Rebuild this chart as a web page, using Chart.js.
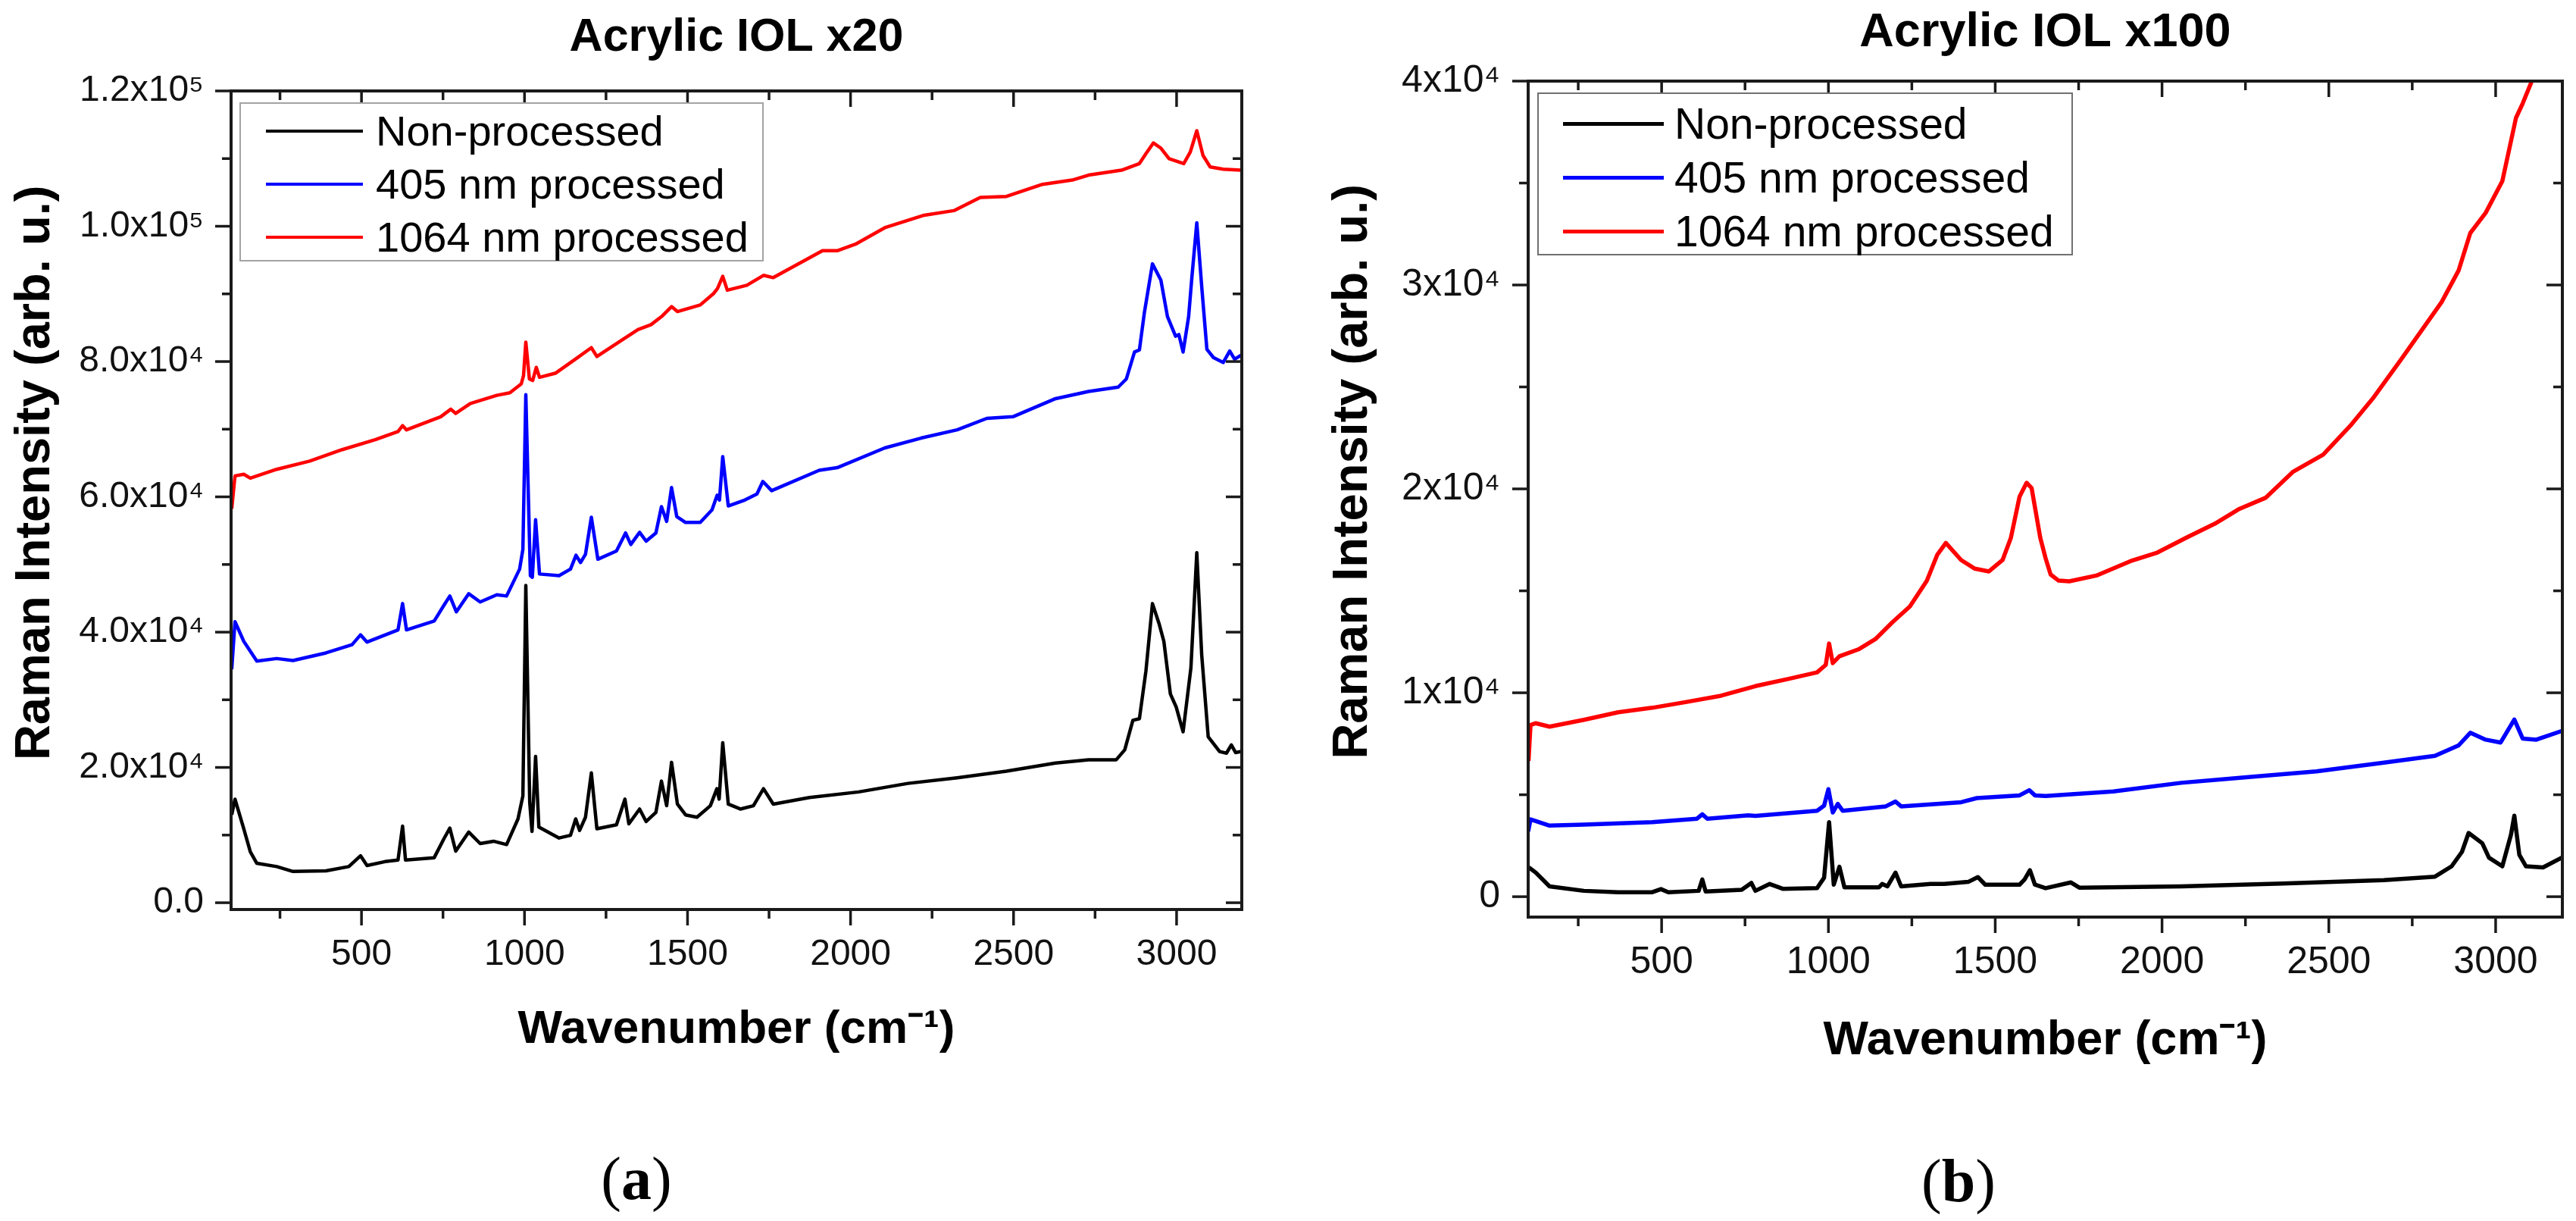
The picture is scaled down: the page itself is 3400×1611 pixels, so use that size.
<!DOCTYPE html>
<html><head><meta charset="utf-8">
<script src="https://cdn.jsdelivr.net/npm/chart.js@4.4.1/dist/chart.umd.min.js"></script>
<style>
html,body{margin:0;padding:0;background:#fff;overflow:hidden;width:3400px;height:1611px;}
canvas{position:absolute;top:0;}
#cA{left:0;}
#cB{left:1700px;}
.legend{position:absolute;box-sizing:border-box;background:#fff;font-family:'Liberation Sans',Arial,sans-serif;color:#000;}
.legend .row{position:absolute;left:0;right:0;white-space:nowrap;}
.legend .sw{position:absolute;}
.legend .tx{position:absolute;}
.panel{position:absolute;font-family:'Liberation Serif','Times New Roman',serif;font-size:80px;line-height:100px;width:200px;text-align:center;color:#000;}
</style></head><body>
<canvas id="cA" width="1700" height="1611" style="width:1700px;height:1611px"></canvas>
<canvas id="cB" width="1700" height="1611" style="width:1700px;height:1611px"></canvas>
<div id="legA" class="legend"></div>
<div id="legB" class="legend"></div>
<div class="panel" style="left:740px;top:1505px">(<b>a</b>)</div>
<div class="panel" style="left:2485px;top:1508px">(<b>b</b>)</div>
<script>
// ---------- shared labels / ticks ----------
const seriesLabels = ['Non-processed', '405 nm processed', '1064 nm processed'];
const seriesColors = ['#000000', '#0000ff', '#ff0000'];

const xMajorTicks = [500, 1000, 1500, 2000, 2500, 3000];
const xTickLabels = ['500', '1000', '1500', '2000', '2500', '3000'];
const xMinorTicks = [250, 750, 1250, 1750, 2250, 2750];

const yTicksA = [0, 20000, 40000, 60000, 80000, 100000, 120000];
const yLabelsA = ['0.0', '2.0x10⁴', '4.0x10⁴', '6.0x10⁴', '8.0x10⁴', '1.0x10⁵', '1.2x10⁵'];
const yMinorA = [10000, 30000, 50000, 70000, 90000, 110000];

const yTicksB = [0, 10000, 20000, 30000, 40000];
const yLabelsB = ['0', '1x10⁴', '2x10⁴', '3x10⁴', '4x10⁴'];
const yMinorB = [5000, 15000, 25000, 35000];

// ---------- (a) Acrylic IOL x20 ----------
const wnA_non = [102,112,139,159,179,240,290,391,461,497,517,572,612,626,635,723,753,771,789,829,864,905,945,980,995,1004,1016,1023,1034,1044,1106,1141,1157,1169,1187,1205,1222,1282,1308,1320,1353,1373,1403,1420,1436,1451,1469,1494,1529,1570,1590,1597,1608,1625,1662,1702,1733,1763,1874,2025,2176,2327,2478,2629,2730,2815,2841,2866,2886,2906,2926,2946,2961,2981,2999,3020,3044,3062,3077,3097,3132,3153,3168,3181,3198];
const intA_non = [13000,15300,10930,7533,5830,5346,4617,4714,5346,6950,5492,6075,6318,11320,6318,6658,9476,11030,7630,10450,8750,9090,8600,12390,15790,46890,14820,10540,21620,11180,9570,9960,12390,10690,12640,19200,10930,11520,15310,11660,13850,12000,13360,17980,14340,20750,14580,12980,12640,14340,16860,15310,23660,14580,13850,14340,16860,14580,15550,16380,17640,18470,19440,20650,21140,21140,22600,26970,27210,34260,44220,41300,38630,30860,28910,25270,34740,51750,36690,24540,22350,22110,23330,22200,22350];

const wnA_405 = [102,112,139,179,240,290,391,471,497,517,612,626,638,723,753,771,791,829,864,915,945,985,995,1004,1018,1024,1034,1046,1106,1141,1158,1172,1187,1205,1225,1282,1310,1326,1353,1373,1403,1420,1436,1451,1467,1494,1539,1575,1591,1598,1608,1625,1672,1713,1731,1758,1904,1959,2105,2216,2327,2418,2498,2629,2730,2821,2846,2871,2886,2901,2926,2952,2972,2997,3007,3020,3037,3047,3062,3078,3093,3113,3143,3163,3178,3198];
const intA_405 = [34500,41550,38630,35710,36100,35810,36930,38140,39600,38530,40330,44220,40330,41640,43980,45340,43000,45680,44460,45530,45340,49320,52240,75100,48350,48110,56610,48590,48350,49320,51360,50290,51510,56990,50780,51990,54660,52960,54760,53450,54660,58550,56370,61370,57090,56220,56220,58070,60250,59520,65940,58650,59450,60420,62270,60910,63920,64310,67230,68680,69900,71600,71840,74520,75580,76220,77430,81410,81710,87150,94440,92010,86660,83750,83990,81410,86660,92490,100510,90550,81800,80590,79860,81560,80350,80930];

const wnA_1064 = [102,112,139,159,240,341,441,542,612,626,638,743,774,789,834,915,955,990,997,1004,1015,1025,1036,1046,1096,1156,1205,1222,1298,1348,1388,1423,1451,1469,1539,1580,1592,1608,1622,1682,1733,1763,1914,1959,2015,2105,2226,2317,2398,2478,2589,2680,2730,2831,2886,2906,2929,2952,2977,3022,3042,3062,3081,3103,3143,3198];
const intA_1064 = [58240,63100,63340,62760,64070,65280,66980,68440,69660,70530,69900,71840,72960,72330,73790,75000,75390,76700,77920,82870,77430,77190,79130,77670,78300,80350,82050,80740,83160,84720,85450,86760,88120,87390,88360,90060,90790,92590,90550,91280,92740,92400,96380,96380,97350,99780,101630,102310,104250,104400,106200,106830,107560,108290,109260,110720,112320,111540,109990,109260,110960,114120,110470,108770,108430,108290];

// ---------- (b) Acrylic IOL x100 ----------
const wnB_non = [102,123,164,267,370,472,498,520,611,622,632,740,769,781,824,863,966,987,1002,1016,1033,1048,1151,1161,1177,1201,1218,1306,1347,1419,1448,1470,1573,1588,1604,1619,1651,1727,1752,2057,2361,2665,2818,2868,2899,2919,2960,2980,3020,3046,3056,3071,3091,3142,3198];
const intB_non = [1432,1180,506,287,220,220,371,220,287,843,253,338,675,287,624,388,422,927,3656,590,1466,456,456,624,506,1180,506,624,624,725,961,590,590,843,1297,590,417,699,445,502,643,813,982,1490,2196,3127,2619,1913,1490,3043,3975,2054,1490,1433,1913];

const wnB_405 = [100,107,123,164,267,472,606,622,637,760,781,966,987,1000,1013,1028,1043,1172,1201,1218,1398,1445,1573,1602,1619,1651,1854,2057,2260,2463,2665,2818,2889,2924,2970,3015,3056,3081,3122,3198];
const intB_405 = [3201,3790,3706,3487,3537,3655,3824,4043,3824,3993,3959,4212,4465,5273,4128,4549,4212,4431,4667,4431,4633,4835,4970,5223,4970,4934,5160,5584,5866,6148,6572,6910,7419,8040,7701,7561,8690,7758,7701,8125];

const wnB_1064 = [101,107,123,164,267,370,472,575,678,781,884,966,992,1002,1013,1033,1090,1141,1193,1244,1295,1326,1352,1398,1439,1481,1522,1547,1573,1594,1609,1635,1651,1666,1690,1722,1803,1905,1986,2077,2158,2229,2310,2392,2483,2564,2635,2716,2777,2838,2889,2924,2970,3020,3061,3081,3107,3140];
const intB_1064 = [6654,8422,8507,8339,8675,9046,9265,9551,9855,10326,10697,11000,11370,12415,11455,11792,12130,12634,13476,14234,15498,16761,17350,16508,16087,15952,16508,17603,19625,20298,20046,17603,16600,15800,15500,15467,15749,16454,16878,17640,18290,18996,19560,20831,21678,23090,24501,26337,27748,29160,30713,32548,33537,35090,38196,38901,39946,42000];

// ---------- rendering ----------
Chart.defaults.font.family = "'Liberation Sans', Arial, Helvetica, sans-serif";
Chart.defaults.color = '#000';

const frameTicks = {
  id: 'frameTicks',
  afterDatasetsDraw(chart, args, o) {
    const {ctx, chartArea: a} = chart;
    const x = chart.scales.x, y = chart.scales.y;
    ctx.save();
    ctx.strokeStyle = '#1a1a1a';
    ctx.lineCap = 'butt';
    ctx.lineWidth = o.tickWidth;
    const seg = (x1, y1, x2, y2) => { ctx.beginPath(); ctx.moveTo(x1, y1); ctx.lineTo(x2, y2); ctx.stroke(); };
    const xt = (vals, len) => vals.forEach(v => { const p = x.getPixelForValue(v); seg(p, a.bottom, p, a.bottom + len); seg(p, a.top, p, a.top + len); });
    const yt = (vals, len) => vals.forEach(v => { const p = y.getPixelForValue(v); seg(a.left, p, a.left - len, p); seg(a.right, p, a.right - len, p); });
    xt(o.xMajor, o.major); xt(o.xMinor, o.minor);
    yt(o.yMajor, o.major); yt(o.yMinor, o.minor);
    ctx.lineWidth = o.frameWidth;
    ctx.strokeRect(a.left, a.top, a.right - a.left, a.bottom - a.top);
    ctx.restore();
  }
};

function makeChart(id, d) {
  const datasets = seriesLabels.map((lab, i) => ({
    label: lab,
    data: d.wn[i].map((w, j) => ({x: w, y: d.iv[i][j]})),
    borderColor: seriesColors[i],
    backgroundColor: seriesColors[i],
    borderWidth: d.lw,
    pointRadius: 0,
    tension: 0,
    fill: false,
    borderJoinStyle: 'round',
    xAxisID: 'x',
    yAxisID: 'y'
  }));
  return new Chart(document.getElementById(id), {
    type: 'line',
    data: {datasets},
    options: {
      responsive: false,
      animation: false,
      devicePixelRatio: 1,
      events: [],
      layout: {padding: {left: 0, top: 0, right: d.padR, bottom: 0}},
      plugins: {
        legend: {display: false},
        tooltip: {enabled: false},
        frameTicks: {xMajor: xMajorTicks, xMinor: xMinorTicks, yMajor: d.yTicks, yMinor: d.yMinor, major: 21, minor: 12, tickWidth: 3.5, frameWidth: 4}
      },
      scales: {
        x: {
          type: 'linear', position: 'bottom', min: 100, max: 3200,
          afterBuildTicks: s => { s.ticks = xMajorTicks.map(v => ({value: v})); },
          ticks: {
            callback: v => { const k = xMajorTicks.indexOf(v); return k < 0 ? '' : xTickLabels[k]; },
            font: {size: d.xTickSize}, color: '#111', padding: d.xTickPad,
            autoSkip: false, maxRotation: 0, minRotation: 0
          },
          grid: {display: false, drawTicks: false},
          border: {display: false},
          title: {display: true, text: 'Wavenumber (cm⁻¹)', color: '#000',
                  font: {size: d.xTitleSize, weight: 'bold'}, padding: {top: 0, bottom: d.xTitlePadB}},
          afterFit: s => { s.height = d.xAxisH; }
        },
        x2: {
          type: 'linear', position: 'top', min: 100, max: 3200,
          ticks: {display: false},
          grid: {display: false, drawTicks: false},
          border: {display: false},
          title: {display: true, text: d.title, color: '#000',
                  font: {size: d.titleSize, weight: 'bold'}, padding: {top: d.titlePadT, bottom: 0}},
          afterFit: s => { s.height = d.topH; }
        },
        y: {
          type: 'linear', position: 'left', min: -1000, max: d.yMax,
          afterBuildTicks: s => { s.ticks = d.yTicks.map(v => ({value: v})); },
          ticks: {
            callback: v => { const k = d.yTicks.indexOf(v); return k < 0 ? '' : d.yLabels[k]; },
            font: {size: d.yTickSize}, color: '#111', padding: d.yTickPad, autoSkip: false
          },
          grid: {display: false, drawTicks: false},
          border: {display: false},
          title: {display: true, text: '    Raman Intensity (arb. u.)', color: '#000',
                  font: {size: d.yTitleSize, weight: 'bold'}, padding: {top: d.yTitlePadT, bottom: 0}},
          afterFit: s => { s.width = d.yAxisW; }
        }
      }
    },
    plugins: [frameTicks]
  });
}

function buildLegend(el, chart, g) {
  Object.assign(el.style, {left: g.left + 'px', top: g.top + 'px', width: g.w + 'px', height: g.h + 'px',
    border: g.bw + 'px solid ' + g.bc, fontSize: g.fs + 'px'});
  chart.data.datasets.forEach((ds, i) => {
    const row = document.createElement('div');
    row.className = 'row';
    row.style.top = (g.first + i * g.step - g.bw - 35) + 'px';
    row.style.height = '70px';
    const sw = document.createElement('span');
    sw.className = 'sw';
    Object.assign(sw.style, {left: (g.swL - g.bw) + 'px', width: g.swW + 'px', height: g.swH + 'px',
      top: (35 - g.swH / 2) + 'px', background: ds.borderColor});
    const tx = document.createElement('span');
    tx.className = 'tx';
    Object.assign(tx.style, {left: (g.txL - g.bw) + 'px', top: '0px', lineHeight: '70px'});
    tx.textContent = ds.label;
    row.appendChild(sw); row.appendChild(tx);
    el.appendChild(row);
  });
}

const chartA = makeChart('cA', {
  wn: [wnA_non, wnA_405, wnA_1064], iv: [intA_non, intA_405, intA_1064],
  lw: 4.5, padR: 61, yAxisW: 305, topH: 120, xAxisH: 411, yMax: 120000,
  yTicks: yTicksA, yLabels: yLabelsA, yMinor: yMinorA,
  xTickSize: 48, xTickPad: 31, yTickSize: 48, yTickPad: 36,
  title: 'Acrylic IOL x20', titleSize: 61, titlePadT: 14,
  xTitleSize: 62, xTitlePadB: 215, yTitleSize: 65, yTitlePadT: 8
});
const chartB = makeChart('cB', {
  wn: [wnB_non, wnB_405, wnB_1064], iv: [intB_non, intB_405, intB_1064],
  lw: 5.5, padR: 18, yAxisW: 317, topH: 107, xAxisH: 401, yMax: 40000,
  yTicks: yTicksB, yLabels: yLabelsB, yMinor: yMinorB,
  xTickSize: 50, xTickPad: 30, yTickSize: 50, yTickPad: 37,
  title: 'Acrylic IOL x100', titleSize: 63, titlePadT: 6,
  xTitleSize: 63, xTitlePadB: 200, yTitleSize: 65, yTitlePadT: 47
});

buildLegend(document.getElementById('legA'), chartA,
  {left: 316, top: 135, w: 692, h: 210, bw: 2, bc: '#a3a3a3', fs: 56, first: 37.5, step: 70, swL: 35, swW: 128, swH: 4, txL: 180});
buildLegend(document.getElementById('legB'), chartB,
  {left: 2029, top: 122, w: 707, h: 215, bw: 2, bc: '#707070', fs: 57, first: 41, step: 71, swL: 34, swW: 133, swH: 5, txL: 181});
</script>
</body></html>
